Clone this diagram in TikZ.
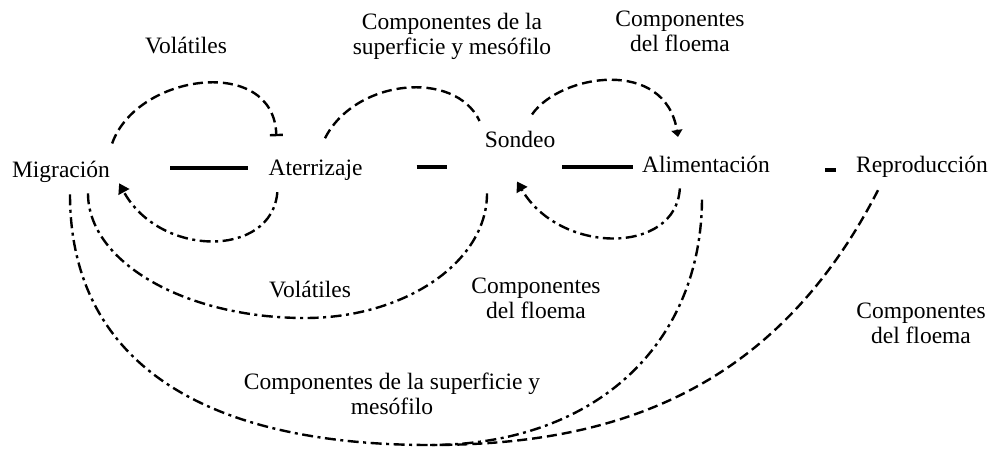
\documentclass[tikz,border=0pt]{standalone}
\usepackage{fontspec}
\setmainfont{Liberation Serif}
\usetikzlibrary{arrows.meta,calc}
\begin{document}
\begin{tikzpicture}[x=1pt,y=1pt,
  lab/.style={font=\fontsize{23.5}{25}\selectfont, inner sep=0pt, align=center},
  solidbar/.style={line width=4pt},
  dsh/.style={line width=2.4pt, dash pattern=on 10pt off 5pt},
  dshdot/.style={line width=2.4pt, dash pattern=on 11pt off 4.5pt on 3pt off 4.5pt},
  tri/.style={-{Triangle[width=12pt,length=10pt]}}
]
\useasboundingbox (0,0) rectangle (993,451);
% stage nodes
\node[lab,anchor=base] (mig)  at (61,274)   {Migración};
\node[lab,anchor=base] (ater) at (315.5,276) {Aterrizaje};
\node[lab,anchor=base] (sond) at (520,304)  {Sondeo};
\node[lab,anchor=base] (alim) at (706,279)  {Alimentación};
\node[lab,anchor=base] (repr) at (922,279)  {Reproducción};
% labels
\node[lab,anchor=base]  (lvolA) at (186,398) {Volátiles};
\node[lab,anchor=north] (lsupA) at (452,438) {Componentes de la\\superficie y mesófilo};
\node[lab,anchor=north] (lfloA) at (680,440) {Componentes\\del floema};
\node[lab,anchor=base]  (lvolB) at (310,154) {Volátiles};
\node[lab,anchor=north] (lfloB) at (536,173) {Componentes\\del floema};
\node[lab,anchor=north] (lsupB) at (392,78)  {Componentes de la superficie y\\mesófilo};
\node[lab,anchor=north] (lfloC) at (921,148) {Componentes\\del floema};
% solid bars
\draw[solidbar] ($(mig.east)+(60,3)$) -- ($(ater.west|-mig.east)+(-20,3)$);
\draw[solidbar] ($(ater.east)+(54,2.5)$) -- ($(sond.west|-ater.east)+(-38,2.5)$);
\draw[solidbar] ($(sond.east|-alim.west)+(7,-2.75)$) -- ($(alim.west)+(-9,-2.75)$);
\draw[solidbar] ($(alim.east)+(55,-6)$) -- ($(repr.west|-alim.east)+(-20,-6)$);
% upper arcs
\draw[dsh,-{Bar[width=13pt]}] ($(mig.north east)+(2,17)$) .. controls (137,378) and (274,396) .. ($(ater.north west)+(8,23)$);
\draw[dsh] ($(ater.north)+(9.5,21)$) .. controls (355,372) and (455,382) .. ($(sond.west)+(-5,18)$);
\draw[dsh,-{Triangle[width=11pt,length=7pt]}] ($(sond.north)+(12,16)$) .. controls (560,377) and (665,394) .. ($(alim.north)+(-28,18.5)$);
% small return arcs
\draw[dshdot,tri] ($(ater.south west)+(9,-12)$) .. controls (272,193) and (160,193) .. ($(mig.south east)+(9,-1)$);
\draw[dshdot,tri] ($(alim.south west)+(38,-16)$) .. controls (676,196) and (560,196) .. ($(sond.south)+(-3,-34)$);
% inner large arc
\draw[dshdot] ($(mig.south)+(27,-11)$) .. controls (88,189) and (185,133) .. (305,133) .. controls (405,133) and (487,189) .. ($(sond.south)+(-33,-46)$);
% outer arcs
\coordinate (bot) at (430,6);
\draw[dshdot] ($(mig.south)+(9,-12)$) .. controls (70,94) and (196,6) .. (bot) .. controls (593,6) and (702,105) .. ($(alim.south)+(-4,-25)$);
\draw[dsh] ($(repr.south)+(-44,-13)$) .. controls (770,50) and (600,6) .. (bot);
\end{tikzpicture}
\end{document}
